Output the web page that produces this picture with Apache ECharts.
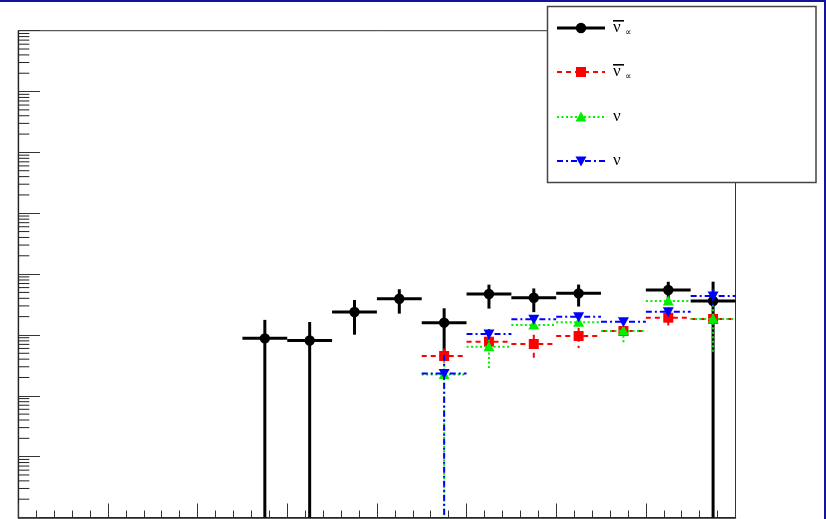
<!DOCTYPE html>
<html><head><meta charset="utf-8">
<script src="https://cdn.jsdelivr.net/npm/echarts@6/dist/echarts.min.js"></script>
<style>html,body{margin:0;padding:0;background:#fff}#c{width:826px;height:519px}</style>
</head><body><div id="c"></div>
<script>
// ---- data (x in bin units, bin width 1) ----
const blackX   = [5.5, 6.5, 7.5, 8.5, 9.5, 10.5, 11.5, 12.5, 14.5, 15.5];
const blackY   = [0.088, 0.081, 0.238, 0.394, 0.159, 0.471, 0.409, 0.483, 0.548, 0.361];
const blackErr = [0.089, 0.082, 0.137, 0.170, 0.115, 0.200, 0.172, 0.190, 0.200, 0.390];

const colX     = [9.5, 10.5, 11.5, 12.5, 13.5, 14.5, 15.5];
const redY     = [0.0451, 0.0775, 0.071, 0.096, 0.116, 0.192, 0.183];
const redErr   = [0.015, 0.015, 0.030, 0.035, 0.015, 0.050, 0.020];
const greenY   = [0.0224, 0.0641, 0.146, 0.1614, 0.116, 0.361, 0.183];
const greenErr = [0.023, 0.0376, 0.020, 0.020, 0.046, 0.050, 0.130];
const blueY    = [0.0232, 0.1037, 0.181, 0.1995, 0.165, 0.241, 0.436];
const blueErr  = [0.024, 0.020, 0.030, 0.030, 0.020, 0.040, 0.130];

const xMin = 0, xMax = 16;
const yMin = 1e-4, yMax = 1e4;
const decades = [-4, -3, -2, -1, 0, 1, 2, 3];
const minorMult = [2, 3, 4, 5, 6, 7, 8, 9];

const legendLabels = [
  {main: 'ν', bar: true, sub: '∝'},
  {main: 'ν', bar: true, sub: '∝'},
  {main: 'ν', bar: false, sub: ''},
  {main: 'ν', bar: false, sub: ''}
];

// ---- build ----
function zip(xs, ys, es) { return xs.map((x, i) => [x, ys[i], es[i]]); }

function markerShape(kind, cx, cy, color) {
  const s = 5;
  if (kind === 'circle') return {type: 'circle', shape: {cx, cy, r: 5.2}, style: {fill: color}};
  if (kind === 'square') return {type: 'rect', shape: {x: cx - s, y: cy - s, width: 2 * s, height: 2 * s}, style: {fill: color}};
  if (kind === 'tri') return {type: 'polygon', shape: {points: [[cx, cy - 5.5], [cx + 5.5, cy + 4.5], [cx - 5.5, cy + 4.5]]}, style: {fill: color}};
  return {type: 'polygon', shape: {points: [[cx, cy + 5.5], [cx + 5.5, cy - 4.5], [cx - 5.5, cy - 4.5]]}, style: {fill: color}};
}

function errSeries(name, data, color, width, dash, kind, z) {
  return {
    type: 'custom', name, data, z,
    renderItem(params, api) {
      const x = api.value(0), y = api.value(1), e = api.value(2);
      const c = api.coord([x, y]);
      const l = api.coord([x - 0.5, y]);
      const r = api.coord([x + 0.5, y]);
      const lo = Math.max(y - e, yMin);
      const pl = api.coord([x, lo]);
      const ph = api.coord([x, Math.min(y + e, yMax)]);
      const st = {stroke: color, lineWidth: width, lineDash: dash, fill: null};
      return {type: 'group', children: [
        {type: 'line', shape: {x1: l[0], y1: c[1], x2: r[0], y2: c[1]}, style: st},
        {type: 'line', shape: {x1: c[0], y1: ph[1], x2: c[0], y2: pl[1]}, style: st},
        markerShape(kind, c[0], c[1], color)
      ]};
    }
  };
}

const minorData = [];
decades.forEach(d => minorMult.forEach(m => minorData.push([xMin, m * Math.pow(10, d)])));

const series = [
  {
    type: 'custom', name: 'yminor', data: minorData, z: 1, silent: true,
    renderItem(params, api) {
      const p = api.coord([api.value(0), api.value(1)]);
      return {type: 'line', shape: {x1: p[0], y1: p[1], x2: p[0] + 11, y2: p[1]}, style: {stroke: '#222', lineWidth: 1}};
    }
  },
  errSeries('black', zip(blackX, blackY, blackErr), '#000000', 3, null, 'circle', 3),
  errSeries('red', zip(colX, redY, redErr), '#ff0000', 2, [5, 4], 'square', 4),
  errSeries('green', zip(colX, greenY, greenErr), '#00ee00', 2, [2, 2.5], 'tri', 5),
  errSeries('blue', zip(colX, blueY, blueErr), '#0000ff', 2, [6, 3, 2, 3], 'tridown', 6)
];

// legend graphic
const legendStyles = [
  {color: '#000', w: 3, dash: null, kind: 'circle'},
  {color: '#ff0000', w: 2, dash: [5, 4], kind: 'square'},
  {color: '#00ee00', w: 2, dash: [2, 2.5], kind: 'tri'},
  {color: '#0000ff', w: 2, dash: [6, 3, 2, 3], kind: 'tridown'}
];
const rowsY = [28, 72, 117, 161];
const legendChildren = [
  {type: 'rect', shape: {x: 547.5, y: 6.5, width: 268.5, height: 176}, style: {fill: '#fff', stroke: '#444', lineWidth: 1.5}}
];
legendLabels.forEach((lab, i) => {
  const s = legendStyles[i], y = rowsY[i];
  legendChildren.push({type: 'line', shape: {x1: 557, y1: y, x2: 605, y2: y}, style: {stroke: s.color, lineWidth: s.w, lineDash: s.dash}});
  legendChildren.push(markerShape(s.kind, 581, y, s.color));
  legendChildren.push({type: 'text', x: 613, y: y, style: {text: lab.main, font: '17px "Liberation Serif"', fill: '#000', verticalAlign: 'middle', align: 'left'}});
  if (lab.bar) legendChildren.push({type: 'rect', shape: {x: 613, y: y - 8, width: 11, height: 1.6}, style: {fill: '#000'}});
  if (lab.sub) legendChildren.push({type: 'text', x: 625, y: y + 5, style: {text: lab.sub, font: '9px "DejaVu Sans"', fill: '#000', verticalAlign: 'middle', align: 'left'}});
});

const chart = echarts.init(document.getElementById('c'), null, {renderer: 'canvas'});
chart.setOption({
  animation: false,
  backgroundColor: '#fff',
  grid: {left: 18.3, top: 30.7, right: 90.5, bottom: 1.5, show: true, borderColor: '#333', borderWidth: 1, backgroundColor: 'transparent'},
  xAxis: {
    type: 'value', min: xMin, max: xMax, interval: 2,
    axisLine: {show: true, lineStyle: {color: '#222', width: 1.5}},
    axisTick: {show: true, inside: true, length: 14, lineStyle: {color: '#333', width: 1}},
    minorTick: {show: true, splitNumber: 5, length: 7, lineStyle: {color: '#333', width: 1}},
    axisLabel: {show: false}, splitLine: {show: false}, minorSplitLine: {show: false}
  },
  yAxis: {
    type: 'log', logBase: 10, min: yMin, max: yMax, interval: 1, splitNumber: 8,
    axisLine: {show: true, lineStyle: {color: '#222', width: 1.3}},
    axisTick: {show: true, inside: true, length: 21.7, lineStyle: {color: '#333', width: 1}},
    axisLabel: {show: false}, splitLine: {show: false}
  },
  series,
  graphic: [
    {type: 'group', z: 100, children: legendChildren},
    {type: 'rect', z: 101, shape: {x: 0, y: 0, width: 826, height: 2}, style: {fill: '#14149a'}},
    {type: 'rect', z: 101, shape: {x: 824, y: 0, width: 2, height: 519}, style: {fill: '#14149a'}}
  ]
});
</script></body></html>
